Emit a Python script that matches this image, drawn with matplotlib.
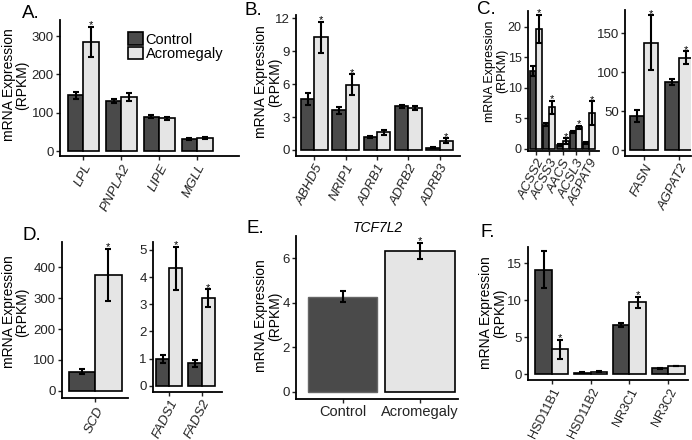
import numpy as np
import matplotlib
matplotlib.use("Agg")
import matplotlib.pyplot as plt
from matplotlib.patches import Patch

plt.rcParams["font.family"] = ["Liberation Sans", "DejaVu Sans"]

CTRL_COLOR = "#4a4a4a"
ACRO_COLOR = "#e5e5e5"

# ---- data ----
A_genes = ["LPL", "PNPLA2", "LIPE", "MGLL"]
A_ctrl = [145, 130, 90, 31]
A_ctrl_err = [8, 5, 5, 3]
A_acro = [285, 141, 85, 34]
A_acro_err = [40, 10, 5, 3]
A_sig = [1, 0, 0, 0]

B_genes = ["ABHD5", "NRIP1", "ADRB1", "ADRB2", "ADRB3"]
B_ctrl = [4.65, 3.6, 1.15, 3.98, 0.2]
B_ctrl_err = [0.55, 0.35, 0.1, 0.15, 0.05]
B_acro = [10.25, 5.95, 1.62, 3.82, 0.85]
B_acro_err = [1.4, 0.95, 0.22, 0.22, 0.2]
B_sig = [1, 1, 0, 0, 1]

C1_genes = ["ACSS2", "ACSS3", "AACS", "ACSL3", "AGPAT9"]
C1_ctrl = [12.8, 4.0, 0.65, 2.85, 0.95]
C1_ctrl_err = [0.85, 0.3, 0.1, 0.15, 0.2]
C1_acro = [19.7, 6.8, 1.3, 3.55, 5.9]
C1_acro_err = [2.3, 1.1, 0.45, 0.2, 1.9]
C1_sig = [1, 1, 1, 1, 1]

C2_genes = ["FASN", "AGPAT2"]
C2_ctrl = [44, 87]
C2_ctrl_err = [8, 4]
C2_acro = [138, 118.5]
C2_acro_err = [35, 8.5]
C2_sig = [1, 1]

D1_genes = ["SCD"]
D1_ctrl = [62]
D1_ctrl_err = [9]
D1_acro = [375]
D1_acro_err = [85]
D1_sig = [1]

D2_genes = ["FADS1", "FADS2"]
D2_ctrl = [0.99, 0.82]
D2_ctrl_err = [0.14, 0.13]
D2_acro = [4.32, 3.22]
D2_acro_err = [0.78, 0.33]
D2_sig = [1, 1]

E_groups = ["Control", "Acromegaly"]
E_vals = [4.27, 6.33]
E_err = [0.26, 0.37]
E_sig = [0, 1]

F_genes = ["HSD11B1", "HSD11B2", "NR3C1", "NR3C2"]
F_ctrl = [14.1, 0.2, 6.64, 0.77]
F_ctrl_err = [2.5, 0.05, 0.22, 0.08]
F_acro = [3.34, 0.3, 9.71, 1.08]
F_acro_err = [1.3, 0.05, 0.7, 0.06]
F_sig = [1, 0, 1, 0]

W, H = 692, 440
fig = plt.figure(figsize=(W / 100, H / 100), dpi=100)

ERR_KW = dict(ecolor="black", elinewidth=1.5, capsize=2.5, capthick=1.5)


def px_axes(l, r, t, b):
    return fig.add_axes([l / W, 1 - b / H, (r - l) / W, (b - t) / H])


def style_axes(ax, xlim, ylim, yticks, size=9.5):
    ax.set_xlim(*xlim)
    ax.set_ylim(*ylim)
    ax.set_yticks(yticks)
    for s in ("top", "right"):
        ax.spines[s].set_visible(False)
    for s in ("left", "bottom"):
        ax.spines[s].set_linewidth(1.3)
    ax.tick_params(length=3, width=1, labelsize=size, pad=1.5, colors="#222222")


def star(ax, x, y):
    ax.annotate("*", (x, y), xytext=(0, -1), textcoords="offset points",
                ha="center", va="baseline", fontsize=8)


def dodge_panel(ax, genes, ctrl, ctrl_err, acro, acro_err, sig, width,
                xlim, ylim, yticks, italic=True, size=9.5, xsize=9.5):
    x = np.arange(1, len(genes) + 1)
    ax.bar(x - width / 2, ctrl, width, color=CTRL_COLOR, edgecolor="black",
           linewidth=1.2, yerr=ctrl_err, error_kw=ERR_KW, zorder=2)
    ax.bar(x + width / 2, acro, width, color=ACRO_COLOR, edgecolor="black",
           linewidth=1.2, yerr=acro_err, error_kw=ERR_KW, zorder=2)
    for i, s in enumerate(sig):
        if s:
            star(ax, x[i] + width / 2, acro[i] + acro_err[i])
    style_axes(ax, xlim, ylim, yticks, size)
    ax.set_xticks(x)
    ax.set_xticklabels(genes, rotation=63, ha="right", rotation_mode="anchor",
                       fontstyle="italic" if italic else "normal", fontsize=xsize)


def ylabel(x, y, size=10):
    fig.text(x / W, 1 - y / H, "mRNA Expression\n(RPKM)", rotation=90,
             ha="center", va="center", fontsize=size, linespacing=0.95,
             multialignment="center")


def letter(x, y, s):
    fig.text(x / W, 1 - y / H, s, ha="left", va="center", fontsize=13.5)


# A
axA = px_axes(60, 239, 20, 156)
dodge_panel(axA, A_genes, A_ctrl, A_ctrl_err, A_acro, A_acro_err, A_sig, 0.41,
            (0.385, 5.1), (-13, 342), [0, 100, 200, 300])
axA.legend(handles=[Patch(facecolor=CTRL_COLOR, edgecolor="black", linewidth=1.2, label="Control"),
                    Patch(facecolor=ACRO_COLOR, edgecolor="black", linewidth=1.2, label="Acromegaly")],
           loc="upper left", bbox_to_anchor=(0.38, 0.91), frameon=False, borderpad=0,
           handlelength=1.05, handleheight=0.95, labelspacing=0.0, handletextpad=0.15,
           fontsize=10.5, borderaxespad=0)

# B
axB = px_axes(296, 460, 15, 155.7)
dodge_panel(axB, B_genes, B_ctrl, B_ctrl_err, B_acro, B_acro_err, B_sig, 0.425,
            (0.415, 5.65), (-0.52, 12.3), [0, 3, 6, 9, 12])

# C
axC1 = px_axes(528, 599, 11, 151)
dodge_panel(axC1, C1_genes, C1_ctrl, C1_ctrl_err, C1_acro, C1_acro_err, C1_sig, 0.45,
            (0.4, 5.74), (-0.33, 22.6), [0, 5, 10, 15, 20], size=9, xsize=9.5)
axC2 = px_axes(625, 691, 10, 155.7)
dodge_panel(axC2, C2_genes, C2_ctrl, C2_ctrl_err, C2_acro, C2_acro_err, C2_sig, 0.4,
            (0.45, 2.33), (-7.3, 180), [0, 50, 100, 150])

# D
axD1 = px_axes(61.7, 128, 241.7, 398.3)
dodge_panel(axD1, D1_genes, D1_ctrl, D1_ctrl_err, D1_acro, D1_acro_err, D1_sig, 0.45,
            (0.43, 1.56), (-24.6, 483), [0, 100, 200, 300, 400])
axD2 = px_axes(153, 221.7, 241.7, 391.7)
dodge_panel(axD2, D2_genes, D2_ctrl, D2_ctrl_err, D2_acro, D2_acro_err, D2_sig, 0.41,
            (0.5, 2.62), (-0.22, 5.3), [0, 1, 2, 3, 4, 5])

# E
axE = px_axes(296, 458, 236, 399)
xe = np.arange(1, len(E_groups) + 1)
axE.bar(xe[0], E_vals[0], 0.9, color=CTRL_COLOR, edgecolor="#666666", linewidth=1.0,
        yerr=E_err[0], error_kw=ERR_KW, zorder=2)
axE.bar(xe[1], E_vals[1], 0.9, color=ACRO_COLOR, edgecolor="black", linewidth=1.2,
        yerr=E_err[1], error_kw=ERR_KW, zorder=2)
for i, s in enumerate(E_sig):
    if s:
        star(axE, xe[i], E_vals[i] + E_err[i])
style_axes(axE, (0.4, 2.49), (-0.33, 7.0), [0, 2, 4, 6])
axE.set_xticks(xe)
axE.set_xticklabels(E_groups, fontsize=10.5)
fig.text(377.7 / W, 1 - 228.3 / H, "TCF7L2", ha="center", va="center",
         fontsize=10, fontstyle="italic")

# F
axF = px_axes(527.7, 688, 246.7, 380)
dodge_panel(axF, F_genes, F_ctrl, F_ctrl_err, F_acro, F_acro_err, F_sig, 0.42,
            (0.38, 4.51), (-0.81, 17.25), [0, 5, 10, 15], italic=False, xsize=9)

# axis titles and panel letters
ylabel(15.5, 85)
ylabel(268, 82)
ylabel(496, 71, size=9)
ylabel(15.5, 312)
ylabel(268, 316)
ylabel(493, 313)

letter(22, 13, "A.")
letter(245, 10.5, "B.")
letter(477, 10, "C.")
letter(23, 235.5, "D.")
letter(247, 228.5, "E.")
letter(480, 232.5, "F.")

fig.savefig("out.png", dpi=100)
